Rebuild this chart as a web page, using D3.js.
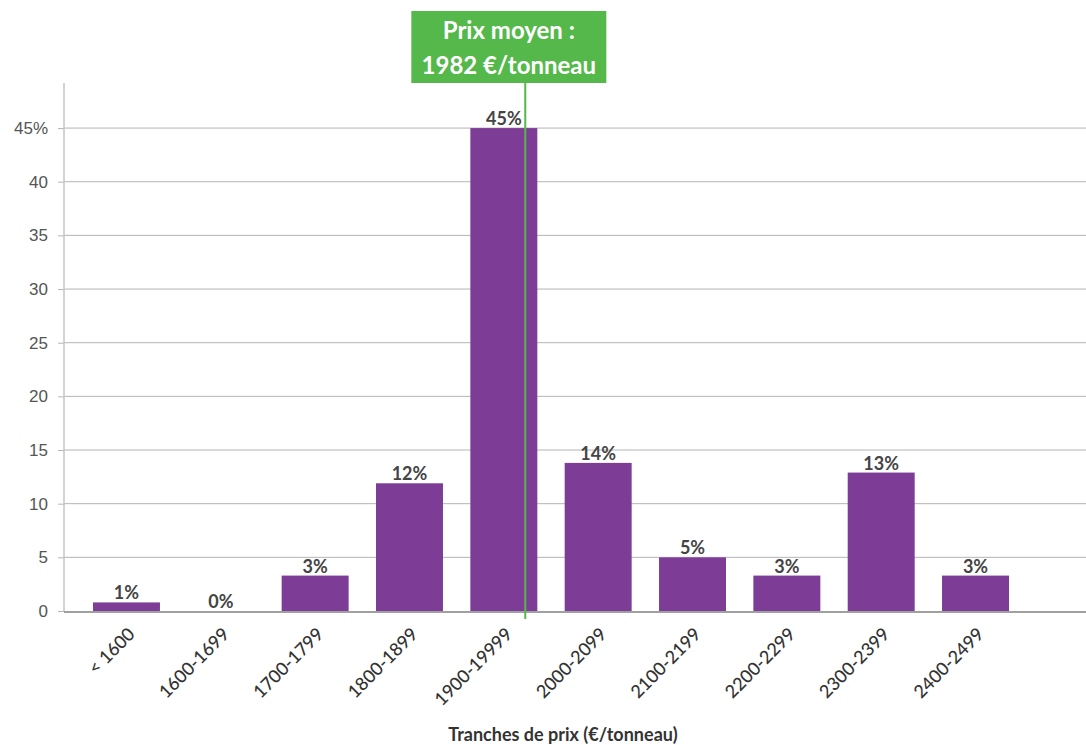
<!DOCTYPE html>
<html>
<head>
<meta charset="utf-8">
<script src="https://cdn.jsdelivr.net/npm/d3@7"></script>
<style>
  body { margin: 0; background: #fff; }
  svg { font-family: Lato, "Open Sans", sans-serif; }
</style>
</head>
<body>
<div id="chart"></div>
<script>
// data
var categories = ["< 1600", "1600-1699", "1700-1799", "1800-1899", "1900-19999",
                  "2000-2099", "2100-2199", "2200-2299", "2300-2399", "2400-2499"];
var shares = [0.8, 0, 3.3, 11.9, 45, 13.8, 5, 3.3, 12.9, 3.3];
var yTicks = [0, 5, 10, 15, 20, 25, 30, 35, 40, 45];
var meanPrice = 1982;
var meanBand = "1900-19999";
var meanBandPrices = [1900, 2000];

function barChart(){
    var width = 1086, height = 745;
    var left = 64, top = 83, bottom = 611, right = 1086;

    var svg = d3.select("#chart")
        .append("svg")
        .attr("width", width)
        .attr("height", height);

    var x = d3.scaleBand()
        .domain(categories)
        .range([79.3, 1022.7])
        .paddingInner(0.29)
        .paddingOuter(0.145);

    var y = d3.scaleLinear().domain([0, 49.2]).range([bottom, top]);

    // price scale across the bar of the mean's band
    var px = d3.scaleLinear().domain(meanBandPrices)
        .range([x(meanBand), x(meanBand) + x.bandwidth()]);

    // gridlines
    svg.append("g")
        .selectAll("line")
        .data(yTicks.filter(function(d){ return d > 0; }))
        .enter().append("line")
        .attr("x1", left).attr("x2", right)
        .attr("y1", function(d){ return y(d); })
        .attr("y2", function(d){ return y(d); })
        .attr("stroke", "#b4b4b4")
        .attr("stroke-width", 1);

    // y axis
    var yAxis = svg.append("g")
        .attr("transform", "translate(" + left + ",0)")
        .call(d3.axisLeft(y).tickValues(yTicks).tickSize(6).tickPadding(10)
            .tickFormat(function(d){ return d === 45 ? d + "%" : d; }));
    yAxis.select(".domain").remove();
    yAxis.selectAll(".tick line").attr("stroke", "#b4b4b4");
    yAxis.selectAll("text")
        .attr("fill", "#555")
        .style("font-size", "17px");

    svg.append("line")
        .attr("x1", left).attr("x2", left)
        .attr("y1", top).attr("y2", bottom)
        .attr("stroke", "#c4c4c4")
        .attr("stroke-width", 1.5);

    // bars
    svg.append("g")
        .selectAll("rect")
        .data(shares)
        .enter().append("rect")
        .attr("x", function(d, i){ return x(categories[i]); })
        .attr("y", function(d){ return y(d); })
        .attr("width", x.bandwidth())
        .attr("height", function(d){ return bottom - y(d); })
        .attr("fill", "#7d3d96");

    // value labels
    svg.append("g")
        .selectAll("text")
        .data(shares)
        .enter().append("text")
        .attr("x", function(d, i){ return x(categories[i]) + x.bandwidth() / 2; })
        .attr("y", function(d){ return y(d) - 3; })
        .attr("text-anchor", "middle")
        .attr("fill", "#444")
        .style("font-size", "18px")
        .style("font-weight", "bold")
        .text(function(d){ return Math.round(d) + "%"; });

    // baseline
    svg.append("line")
        .attr("x1", left).attr("x2", right)
        .attr("y1", bottom + 1).attr("y2", bottom + 1)
        .attr("stroke", "#a0a0a0")
        .attr("stroke-width", 2);

    // x labels
    svg.append("g")
        .selectAll("text")
        .data(categories)
        .enter().append("text")
        .attr("transform", function(d){
            return "translate(" + (x(d) + x.bandwidth() / 2 + 5) + "," + (bottom + 20) + ") rotate(-45)";
        })
        .attr("text-anchor", "end")
        .attr("dy", "0.35em")
        .attr("fill", "#333")
        .style("font-size", "18px")
        .style("font-weight", "500")
        .text(function(d){ return d; });

    // axis title
    svg.append("text")
        .attr("x", 563)
        .attr("y", 741)
        .attr("text-anchor", "middle")
        .attr("fill", "#333")
        .style("font-size", "18px")
        .style("font-weight", "bold")
        .text("Tranches de prix (€/tonneau)");

    // mean price marker
    var mx = px(meanPrice);
    svg.append("line")
        .attr("x1", mx).attr("x2", mx)
        .attr("y1", top).attr("y2", bottom + 8)
        .attr("stroke", "#55b84a")
        .attr("stroke-width", 2);

    var bx = x(meanBand) + x.bandwidth() / 2 + 5;
    svg.append("rect")
        .attr("x", bx - 97.5).attr("y", 11)
        .attr("width", 195).attr("height", 72)
        .attr("fill", "#55b84a");
    svg.append("text")
        .attr("x", bx).attr("y", 39)
        .attr("text-anchor", "middle")
        .attr("fill", "#fff")
        .style("font-size", "24px")
        .style("font-weight", "bold")
        .text("Prix moyen :");
    svg.append("text")
        .attr("x", bx).attr("y", 74)
        .attr("text-anchor", "middle")
        .attr("fill", "#fff")
        .style("font-size", "24px")
        .style("font-weight", "bold")
        .text(meanPrice + " €/tonneau");
}

barChart();
</script>
</body>
</html>
